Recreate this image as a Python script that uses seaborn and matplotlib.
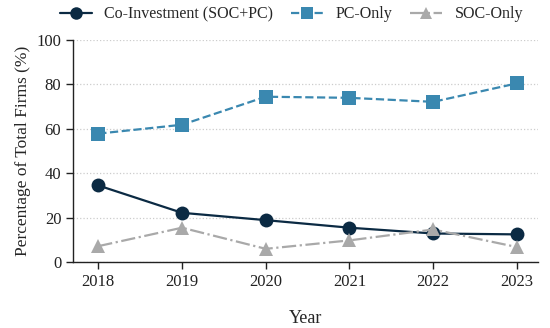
import numpy as np
import pandas as pd
import matplotlib.pyplot as plt
import seaborn as sns

years = [2018, 2019, 2020, 2021, 2022, 2023]
co_invest = [34.6, 22.3, 19.0, 15.6, 13.0, 12.6]
pc_only = [57.9, 61.9, 74.5, 74.0, 72.2, 80.5]
soc_only = [7.3, 15.6, 6.1, 9.9, 14.8, 6.9]

sns.set_style('white')
plt.rcParams['font.family'] = ['Liberation Serif', 'DejaVu Serif']

fig, ax = plt.subplots(figsize=(5.5, 3.28), dpi=100)

series = [
    ('Co-Investment (SOC+PC)', co_invest, '#0b2a43', 'o', '-'),
    ('PC-Only', pc_only, '#3a88b0', 's', '--'),
    ('SOC-Only', soc_only, '#a9a9a9', '^', '-.'),
]
for name, vals, col, mk, ls in series:
    sns.lineplot(x=years, y=vals, ax=ax, color=col, marker=mk, linestyle=ls,
                 markersize=10, linewidth=1.6, markeredgewidth=0, label=name)

ax.set_xlim(2017.7, 2023.25)
ax.set_ylim(0, 100)
ax.set_yticks([0, 20, 40, 60, 80, 100])
ax.set_xticks(years)
ax.yaxis.grid(True, linestyle=':', color='#cccccc', linewidth=0.9)
ax.set_axisbelow(True)
sns.despine(ax=ax)
for s in ['left', 'bottom']:
    ax.spines[s].set_color('#222222')
    ax.spines[s].set_linewidth(1.0)
ax.tick_params(axis='both', direction='out', length=5, width=1.0,
               colors='#222222', labelsize=12, left=True, bottom=True)
ax.set_xlabel('Year', fontsize=13, labelpad=14)
ax.set_ylabel('Percentage of Total Firms (%)', fontsize=12.5)
ax.legend(loc='upper center', bbox_to_anchor=(0.53, 1.005),
          bbox_transform=fig.transFigure, ncol=3, frameon=False,
          fontsize=11.5, handlelength=2.0, columnspacing=1.1, borderaxespad=0.1,
          markerscale=0.9)

fig.subplots_adjust(left=0.133, right=0.978, top=0.878, bottom=0.2)
fig.savefig('out.png')
